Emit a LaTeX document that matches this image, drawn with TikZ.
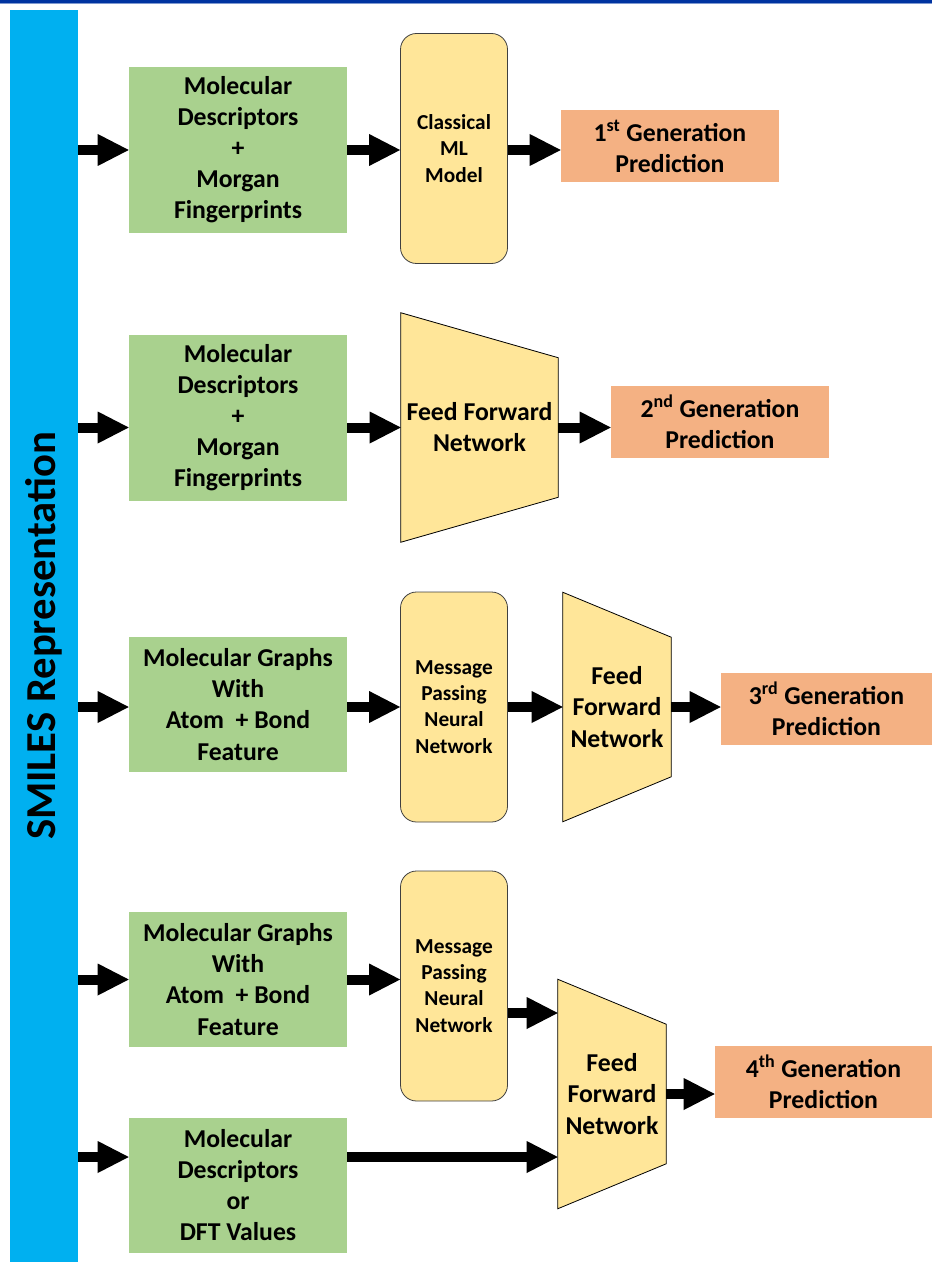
\documentclass[tikz,border=0pt]{standalone}
\usepackage{fontspec}
\setmainfont{Carlito}
\usepackage{tikz}
\usetikzlibrary{positioning, calc, arrows.meta, backgrounds}
\definecolor{smilesblue}{HTML}{00B0F0}
\definecolor{featgreen}{HTML}{A9D18E}
\definecolor{modelyellow}{HTML}{FFE699}
\definecolor{predorange}{HTML}{F4B183}
\definecolor{rulenavy}{HTML}{0033A0}
\definecolor{rulelight}{HTML}{7F99D0}
\newcommand{\bigtext}{\fontsize{19.3}{23.3}\selectfont\bfseries}
\newcommand{\smalltext}{\fontsize{16}{19.6}\selectfont\bfseries}
\tikzstyle{feature}=[fill=featgreen, inner sep=0pt, minimum width=163.5pt, align=center, font=\bigtext]
\tikzstyle{feature tall}=[feature, minimum height=124.5pt]
\tikzstyle{feature short}=[feature, minimum height=101.25pt]
\tikzstyle{model}=[fill=modelyellow, draw=black!75, line width=0.6pt, rounded corners=12pt, inner sep=0pt, minimum width=80.25pt, minimum height=172.5pt, align=center, font=\smalltext]
\tikzstyle{ffn label}=[inner sep=0pt, minimum height=171.75pt, align=center, font=\bigtext]
\tikzstyle{ffn shape}=[fill=modelyellow, draw=black, line width=0.6pt, line join=miter]
\tikzstyle{prediction}=[fill=predorange, inner sep=0pt, minimum width=163.5pt, minimum height=54pt, align=center, font=\bigtext]
\tikzstyle{arrow}=[-{Triangle[length=23.25pt, width=24pt, line width=0pt]}, line width=7.5pt]

\begin{document}
\begin{tikzpicture}[x=0.75pt, y=-0.75pt]
      \useasboundingbox (0,0) rectangle (932,1262);
      % rule along the top edge
      \fill [rulenavy] (0,0) rectangle (932,3);
      \fill [rulelight] (0,3) rectangle (932,4.5);

      \node [fill=smilesblue, inner sep=0pt, minimum width=51pt, minimum height=939pt] (bar) at (44,636) {};
      \node [rotate=90, font=\fontsize{32}{38}\selectfont\bfseries] (bar-label) at (bar) {SMILES Representation};

      % 1st generation
      \node [feature tall] (feat-1) at (238,150) {Molecular\\Descriptors\\+\\Morgan\\Fingerprints};
      \node [model] (cml-1) at (454,148.5) {Classical\\ML\\Model};
      \node [prediction] (pred-1) at (670,146) {1\textsuperscript{st} Generation\\Prediction};

      \draw [arrow] (bar.east |- feat-1) -- (feat-1.west);
      \draw [arrow] (feat-1.east) -- (feat-1.east -| cml-1.west);
      \draw [arrow] (cml-1.east |- feat-1) -- (pred-1.west |- feat-1);

      % 2nd generation
      \node [feature tall] (feat-2) at (238,417.5) {Molecular\\Descriptors\\+\\Morgan\\Fingerprints};
      \node [ffn label, minimum width=117.75pt] (ffn-2) at (479.5,427.5) {Feed Forward\\Network};
      \node [prediction] (pred-2) at (720,421.5) {2\textsuperscript{nd} Generation\\Prediction};

      \draw [arrow] (bar.east |- ffn-2) -- (feat-2.west |- ffn-2);
      \draw [arrow] (feat-2.east |- ffn-2) -- (ffn-2.west);
      \draw [arrow] (ffn-2.east) -- (pred-2.west |- ffn-2);

      % 3rd generation
      \node [feature short] (feat-3) at (238,704.5) {Molecular Graphs\\With\\Atom~~+ Bond\\Feature};
      \node [model] (mpnn-3) at (454,707) {Message\\Passing\\Neural\\Network};
      \node [ffn label, minimum width=81pt] (ffn-3) at (617,707) {Feed\\Forward\\Network};
      \node [prediction, minimum width=158.25pt] (pred-3) at (826.5,708.5) {3\textsuperscript{rd} Generation\\Prediction};

      \draw [arrow] (bar.east |- mpnn-3) -- (feat-3.west |- mpnn-3);
      \draw [arrow] (feat-3.east |- mpnn-3) -- (mpnn-3.west);
      \draw [arrow] (mpnn-3.east) -- (ffn-3.west);
      \draw [arrow] (ffn-3.east) -- (pred-3.west |- ffn-3);

      % 4th generation
      \node [feature short] (feat-4a) at (238,979.5) {Molecular Graphs\\With\\Atom~~+ Bond\\Feature};
      \node [feature short] (feat-4b) at (238,1185) {Molecular\\Descriptors\\or\\DFT Values};
      \node [model] (mpnn-4) at (454,986) {Message\\Passing\\Neural\\Network};
      \node [ffn label, minimum width=81pt] (ffn-4) at (612,1094) {Feed\\Forward\\Network};
      \node [prediction, minimum width=162.75pt] (pred-4) at (823.5,1082) {4\textsuperscript{th} Generation\\Prediction};

      \draw [arrow] (bar.east |- feat-4a) -- (feat-4a.west);
      \draw [arrow] (feat-4a.east) -- (feat-4a.east -| mpnn-4.west);
      \draw [arrow] ([yshift=-20.25pt]mpnn-4.east) -- ([yshift=-20.25pt]mpnn-4.east -| ffn-4.west);
      \draw [arrow] ([yshift=21pt]bar.east |- feat-4b) -- ([yshift=21pt]feat-4b.west);
      \draw [arrow] ([yshift=21pt]feat-4b.east) -- ([yshift=21pt]feat-4b.east -| ffn-4.west);
      \draw [arrow] (ffn-4.east) -- (pred-4.west |- ffn-4);

      % trapezoid outlines behind the network labels
      \begin{scope}[on background layer]
        \foreach \f in {ffn-2,ffn-3,ffn-4}{
          \draw [ffn shape] (\f.north west) -- ([yshift=-33.75pt]\f.north east)
            -- ([yshift=33.75pt]\f.south east) -- (\f.south west) -- cycle;
        }
      \end{scope}
    \end{tikzpicture}
\end{document}
